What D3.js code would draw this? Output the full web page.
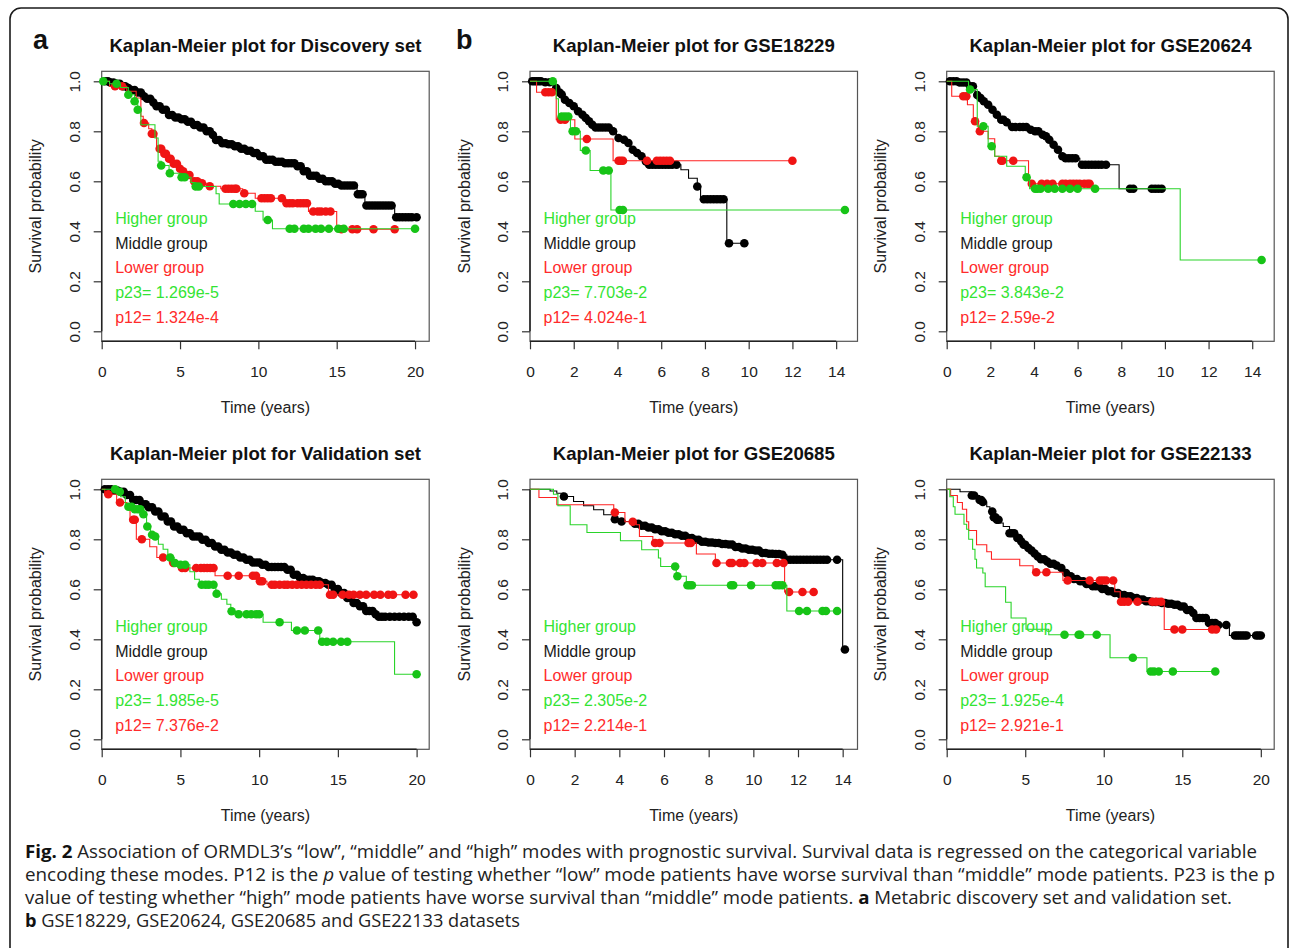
<!DOCTYPE html>
<html><head><meta charset="utf-8">
<script src="https://cdn.jsdelivr.net/npm/d3@7"></script>
<style>html,body{margin:0;padding:0;background:#fff;} svg{display:block;}</style>
</head><body><svg id="c" width="1290" height="948"></svg>
<script>
// ---------------- DATA ----------------
const panelTitles = ["Kaplan-Meier plot for Discovery set","Kaplan-Meier plot for GSE18229","Kaplan-Meier plot for GSE20624",
  "Kaplan-Meier plot for Validation set","Kaplan-Meier plot for GSE20685","Kaplan-Meier plot for GSE22133"];
const panelXTicks = [[0,5,10,15,20],[0,2,4,6,8,10,12,14],[0,2,4,6,8,10,12,14],
  [0,5,10,15,20],[0,2,4,6,8,10,12,14],[0,5,10,15,20]];
const panelTMax = [20.1, 14.4, 14.43, 20, 14.1, 20.05];
const yTicks = [0,0.2,0.4,0.6,0.8,1.0];
const groupNames = ["Higher group","Middle group","Lower group"];
const p23Labels = ["p23= 1.269e-5","p23= 7.703e-2","p23= 3.843e-2","p23= 1.985e-5","p23= 2.305e-2","p23= 1.925e-4"];
const p12Labels = ["p12= 1.324e-4","p12= 4.024e-1","p12= 2.59e-2","p12= 7.376e-2","p12= 2.214e-1","p12= 2.921e-1"];
const panelLetters = ["a","b"];
const xTitle = "Time (years)", yTitle = "Survival probability";

// Discovery set  (steps: [time, survival after drop]; cens: censor times)
const discMidSteps = [[0.5,0.995],[0.9,0.99],[1.3,0.98],[1.6,0.973],[1.9,0.965],[2.2,0.955],[2.6,0.94],[2.9,0.93],[3.2,0.915],[3.5,0.9],[3.9,0.886],[4.2,0.865],[4.6,0.855],[5.0,0.848],[5.4,0.838],[5.8,0.825],[6.2,0.815],[6.7,0.8],[7.0,0.785],[7.3,0.765],[7.6,0.752],[8.0,0.748],[8.4,0.74],[8.8,0.73],[9.2,0.722],[9.6,0.713],[10.0,0.7],[10.5,0.686],[11.0,0.678],[11.7,0.672],[12.4,0.66],[12.8,0.64],[13.2,0.622],[13.8,0.61],[14.3,0.6],[14.8,0.59],[15.2,0.583],[16.3,0.548],[16.8,0.503],[18.7,0.456]];
const discMidCens = [0.2,0.4,0.55,0.75,0.95,1.15,1.35,1.5,1.7,1.9,2.1,2.3,2.5,2.7,2.9,3.1,3.3,3.5,3.7,3.9,4.1,4.3,4.5,4.7,4.9,5.1,5.3,5.5,5.7,5.9,6.1,6.3,6.5,6.7,6.9,7.1,7.3,7.5,7.7,7.9,8.1,8.3,8.5,8.7,8.9,9.1,9.3,9.5,9.7,9.9,10.1,10.3,10.5,10.7,10.9,11.1,11.3,11.5,11.7,11.9,12.1,12.3,12.5,12.7,12.9,13.1,13.3,13.5,13.7,13.9,14.1,14.3,14.5,14.7,14.9,15.1,15.3,15.5,15.7,15.9,16.1,16.35,16.5,16.65,16.9,17.1,17.3,17.5,17.7,17.9,18.1,18.3,18.5,18.8,19.0,19.2,19.4,19.6,19.8,20.1];
const discLowSteps = [[0.5,0.98],[1.6,0.96],[2.2,0.933],[2.5,0.86],[2.65,0.833],[3.0,0.81],[3.2,0.79],[3.5,0.73],[3.9,0.71],[4.2,0.69],[4.5,0.67],[4.9,0.65],[5.1,0.64],[5.4,0.625],[5.7,0.6],[6.3,0.592],[6.8,0.58],[7.6,0.57],[9.0,0.552],[9.8,0.532],[11.6,0.512],[13.2,0.479],[15.0,0.408]];
const discLowCens = [0.85,1.3,2.7,3.2,3.3,3.7,3.8,4.0,4.1,4.3,4.4,4.6,4.8,5.0,5.2,5.4,5.6,5.9,6.1,6.4,6.9,7.9,8.1,8.3,8.5,8.6,9.1,10.2,10.4,10.6,10.8,11.5,11.8,12.0,12.2,12.5,12.7,12.9,13.1,13.5,13.8,14.0,14.3,14.6,15.3,16.0,16.3,17.35,18.7];
const discHighSteps = [[0.5,0.99],[1.2,0.975],[1.7,0.946],[2.1,0.92],[2.3,0.886],[2.5,0.826],[3.4,0.773],[3.6,0.68],[3.8,0.663],[4.3,0.632],[5.0,0.616],[5.7,0.595],[6.0,0.579],[7.3,0.55],[7.5,0.509],[9.8,0.48],[10.3,0.445],[10.9,0.41]];
const discHighCens = [0.1,0.95,1.7,2.1,2.3,3.8,4.35,5.1,5.3,6.0,6.2,8.4,8.8,9.2,9.6,10.6,12.0,12.3,12.9,13.2,13.65,14.0,14.5,15.1,15.45,20.0];

// GSE18229
const g18MidSteps = [[0.6,0.996],[1.0,0.985],[1.15,0.973],[1.3,0.955],[1.4,0.947],[1.5,0.926],[1.7,0.913],[1.9,0.9],[2.1,0.88],[2.3,0.866],[2.45,0.853],[2.6,0.84],[2.75,0.826],[2.95,0.815],[3.75,0.8],[3.95,0.773],[4.2,0.766],[4.45,0.753],[4.6,0.726],[4.85,0.713],[5.0,0.7],[5.2,0.679],[5.35,0.666],[6.9,0.646],[7.25,0.612],[7.65,0.579],[7.8,0.528],[9.0,0.352]];
const g18MidCens = [0.1,0.2,0.3,0.4,0.5,0.7,0.9,1.2,1.35,1.45,1.6,1.8,2.0,2.2,2.4,2.55,2.7,2.85,3.0,3.15,3.3,3.45,3.6,3.8,4.05,4.3,4.5,4.7,4.9,5.1,5.3,5.45,5.6,5.75,5.9,6.05,6.2,6.35,6.5,6.7,7.65,7.95,8.1,8.25,8.4,8.55,8.7,8.85,9.1,9.8];
const g18LowSteps = [[0.3,0.956],[1.2,0.846],[2.05,0.769],[3.8,0.682]];
const g18LowCens = [0.7,0.85,1.0,1.4,1.6,2.6,4.05,4.15,4.25,5.35,5.8,5.95,6.1,6.25,6.4,12.0];
const g18HighSteps = [[1.2,0.93],[1.3,0.859],[1.85,0.8],[2.3,0.723],[2.75,0.643],[3.7,0.485]];
const g18HighCens = [1.04,1.45,1.6,1.75,1.95,2.1,2.55,3.35,3.6,4.1,4.25,14.4];

// GSE20624
const g20MidSteps = [[0.5,0.995],[1.0,0.98],[1.3,0.945],[1.45,0.933],[1.6,0.92],[1.83,0.906],[2.05,0.886],[2.2,0.866],[2.45,0.846],[2.67,0.836],[2.82,0.817],[3.8,0.806],[4.0,0.8],[4.3,0.786],[4.5,0.78],[4.6,0.766],[4.8,0.746],[5.0,0.726],[5.2,0.7],[5.35,0.692],[6.1,0.666],[7.9,0.57]];
const g20MidCens = [0.15,0.3,0.45,0.6,0.75,0.9,1.07,1.2,1.4,1.55,1.7,1.9,2.1,2.3,2.5,2.6,2.75,3.0,3.15,3.35,3.5,3.65,3.85,4.05,4.2,4.4,4.55,4.7,4.9,5.1,5.3,5.45,5.6,5.75,5.9,6.2,6.35,6.5,6.65,6.8,6.95,7.1,7.3,8.4,8.55,9.4,9.55,9.7,9.85];
const g20LowSteps = [[0.23,0.94],[0.95,0.906],[1.22,0.84],[1.45,0.8],[1.9,0.77],[2.2,0.7],[2.4,0.682],[3.75,0.59]];
const g20LowCens = [0.76,0.9,1.3,1.52,2.5,2.55,3.05,3.9,4.35,4.6,4.85,5.3,5.45,5.65,5.8,5.95,6.1,6.3,6.45,6.55];
const g20HighSteps = [[1.0,0.967],[1.4,0.82],[1.9,0.74],[2.2,0.7],[2.75,0.66],[3.6,0.616],[3.8,0.57],[10.7,0.285]];
const g20HighCens = [1.07,1.68,2.06,3.66,4.05,4.15,4.3,4.65,4.95,5.3,5.65,6.0,6.8,14.43];

// Validation set
const valMidSteps = [[0.8,0.995],[1.15,0.99],[1.6,0.977],[2.0,0.957],[2.45,0.94],[2.85,0.928],[3.3,0.911],[3.7,0.891],[4.1,0.871],[4.55,0.851],[5.0,0.838],[5.4,0.824],[5.8,0.811],[6.25,0.798],[6.65,0.785],[7.1,0.771],[7.5,0.758],[7.95,0.747],[8.35,0.738],[8.8,0.727],[9.2,0.718],[9.6,0.707],[10.05,0.698],[10.5,0.689],[11.75,0.678],[12.15,0.658],[12.6,0.645],[13.0,0.638],[13.45,0.632],[13.85,0.625],[14.3,0.618],[14.7,0.601],[15.1,0.585],[15.55,0.565],[16.0,0.545],[16.4,0.532],[16.8,0.513],[17.25,0.5],[17.55,0.49],[19.95,0.468]];
const valMidCens = [0.2,0.4,0.6,0.8,1.0,1.2,1.4,1.6,1.8,2.0,2.2,2.4,2.6,2.8,3.0,3.2,3.4,3.6,3.8,4.0,4.2,4.4,4.6,4.8,5.0,5.2,5.4,5.6,5.8,6.0,6.2,6.4,6.6,6.8,7.0,7.2,7.4,7.6,7.8,8.0,8.2,8.4,8.6,8.8,9.0,9.2,9.4,9.6,9.8,10.0,10.2,10.4,10.6,10.8,11.0,11.2,11.4,11.6,11.8,12.0,12.2,12.4,12.6,12.8,13.0,13.2,13.4,13.6,13.8,14.0,14.2,14.4,14.6,14.8,15.0,15.2,15.4,15.6,15.8,16.0,16.2,16.4,16.6,16.8,17.0,17.2,17.4,17.6,17.8,18.0,18.3,18.6,18.9,19.2,19.5,19.75,20.0];
const valLowSteps = [[0.2,0.98],[0.95,0.947],[1.6,0.93],[1.8,0.878],[2.2,0.8],[3.05,0.77],[3.5,0.727],[4.3,0.705],[4.9,0.685],[7.2,0.654],[9.95,0.632],[10.5,0.618],[14.4,0.578]];
const valLowCens = [0.42,1.16,2.0,2.1,2.55,3.9,4.55,5.1,5.3,6.0,6.3,6.5,6.7,6.9,7.1,8.0,8.7,9.6,9.8,10.05,10.2,10.8,11.0,11.3,11.6,11.8,12.1,12.4,12.7,13.0,13.3,13.6,13.85,14.5,14.7,15.3,15.7,16.0,16.4,16.8,17.3,17.7,18.2,18.5,19.3,19.8];
const valHighSteps = [[1.0,0.99],[1.2,0.97],[1.5,0.93],[2.0,0.92],[2.6,0.9],[2.85,0.851],[3.1,0.818],[3.35,0.811],[3.6,0.78],[3.9,0.76],[4.2,0.727],[4.6,0.705],[4.95,0.698],[5.6,0.67],[5.9,0.64],[6.2,0.618],[7.25,0.582],[7.6,0.56],[7.95,0.54],[8.2,0.512],[8.6,0.5],[10.25,0.468],[12.05,0.435],[13.85,0.39],[18.6,0.26]];
const valHighCens = [0.85,1.15,1.7,1.9,2.1,2.3,2.45,2.65,2.9,3.2,3.4,4.35,4.65,5.0,5.3,6.35,6.6,6.8,7.1,7.3,8.25,8.7,9.2,9.5,9.8,10.0,11.3,12.4,12.9,13.75,14.0,14.3,14.7,15.2,15.6,20.0];

// GSE20685
const g685MidSteps = [[0.9,0.993],[1.2,0.984],[1.5,0.971],[1.95,0.951],[2.4,0.934],[2.85,0.918],[3.3,0.898],[3.75,0.88],[4.1,0.871],[4.6,0.862],[4.95,0.854],[5.2,0.847],[5.5,0.84],[5.85,0.832],[6.1,0.826],[6.4,0.82],[6.7,0.814],[7.0,0.805],[7.3,0.798],[7.6,0.79],[7.9,0.787],[8.2,0.785],[8.5,0.781],[8.8,0.779],[9.1,0.769],[9.4,0.763],[9.7,0.758],[10.0,0.755],[10.3,0.745],[10.6,0.742],[10.9,0.741],[11.2,0.738],[11.5,0.718],[14.0,0.359]];
const g685MidCens = [1.52,3.8,4.1,4.7,4.85,5.0,5.15,5.3,5.45,5.6,5.75,5.9,6.05,6.2,6.35,6.5,6.65,6.8,6.95,7.1,7.25,7.4,7.55,7.7,7.85,8.0,8.15,8.3,8.45,8.6,8.75,8.9,9.05,9.2,9.35,9.5,9.65,9.8,9.95,10.1,10.25,10.4,10.55,10.7,10.85,11.0,11.15,11.3,11.5,11.65,11.8,11.95,12.1,12.25,12.4,12.55,12.7,12.85,13.0,13.15,13.3,13.75,14.1];
const g685LowSteps = [[0.4,0.967],[1.2,0.938],[3.75,0.907],[4.25,0.87],[4.75,0.858],[4.9,0.811],[5.5,0.785],[7.45,0.741],[8.3,0.705],[11.4,0.589]];
const g685LowCens = [3.8,4.6,5.6,5.8,7.1,7.2,8.35,8.95,9.05,9.4,9.6,10.15,10.4,11.05,11.35,11.6,12.2,12.7];
const g685HighSteps = [[1.05,0.98],[1.25,0.934],[1.8,0.858],[2.55,0.827],[4.05,0.794],[5.0,0.758],[5.75,0.725],[5.85,0.691],[6.55,0.652],[7.0,0.616],[11.5,0.513]];
const g685HighCens = [6.5,6.6,7.05,7.15,7.25,9.0,9.1,9.9,11.0,11.15,11.3,12.05,12.4,13.1,13.25,13.75];

// GSE22133
const g22MidSteps = [[0.85,0.99],[1.6,0.975],[2.1,0.957],[2.3,0.949],[2.55,0.93],[2.75,0.911],[2.95,0.888],[3.2,0.878],[3.4,0.865],[3.6,0.851],[4.0,0.824],[4.45,0.805],[4.65,0.791],[4.85,0.778],[5.1,0.765],[5.3,0.755],[5.5,0.743],[5.7,0.731],[5.9,0.72],[6.25,0.711],[6.55,0.702],[6.9,0.695],[7.2,0.685],[7.5,0.665],[7.7,0.652],[8.05,0.641],[8.45,0.632],[8.9,0.621],[9.3,0.612],[9.75,0.601],[10.15,0.592],[10.6,0.585],[11.0,0.577],[11.4,0.572],[11.85,0.565],[12.3,0.559],[12.7,0.552],[13.1,0.549],[13.55,0.545],[14.0,0.542],[14.4,0.538],[14.8,0.531],[15.25,0.517],[15.65,0.505],[15.9,0.485],[16.7,0.465],[17.15,0.457],[18.0,0.415]];
const g22MidCens = [1.6,1.75,2.1,2.2,2.3,2.9,3.0,3.1,3.2,3.3,4.0,4.15,4.3,4.5,4.6,4.75,4.9,5.0,5.2,5.4,5.6,5.8,6.0,6.2,6.4,6.6,6.8,7.0,7.3,7.6,7.9,8.1,8.3,8.5,8.7,8.9,9.1,9.3,9.5,9.7,9.9,10.1,10.3,10.5,10.7,10.9,11.1,11.3,11.5,11.7,11.9,12.1,12.3,12.5,12.7,12.9,13.1,13.3,13.5,13.7,13.9,14.1,14.3,14.5,14.7,14.9,15.1,15.3,15.5,15.7,15.9,16.1,16.3,16.5,16.7,16.9,17.1,17.3,17.8,18.35,18.5,18.65,18.8,18.95,19.1,19.7,19.85,20.0];
const g22LowSteps = [[0.25,0.975],[0.68,0.947],[1.0,0.92],[1.27,0.87],[1.4,0.835],[1.9,0.778],[2.55,0.75],[2.85,0.72],[4.65,0.694],[5.5,0.668],[7.4,0.635],[10.7,0.59],[11.05,0.55],[13.85,0.439]];
const g22LowCens = [5.7,6.35,7.7,9.1,9.75,9.95,10.15,10.6,11.1,11.3,11.55,12.15,13.1,13.35,13.65,14.5,15.0,16.9,17.15];
const g22HighSteps = [[0.2,0.97],[0.42,0.93],[0.53,0.9],[1.1,0.86],[1.27,0.84],[1.4,0.8],[1.65,0.76],[1.8,0.72],[1.9,0.685],[2.3,0.665],[2.45,0.61],[3.75,0.548],[4.1,0.485],[5.05,0.44],[6.5,0.418],[10.4,0.326],[12.75,0.271]];
const g22HighCens = [7.5,8.4,8.5,9.55,11.85,13.0,13.2,13.5,14.4,17.1];

// caption
const captionLines = [
  [["Fig. 2","b"],[" Association of ORMDL3\u2019s \u201clow\u201d, \u201cmiddle\u201d and \u201chigh\u201d modes with prognostic survival. Survival data is regressed on the categorical variable",""]],
  [["encoding these modes. P12 is the ",""],["p","i"],[" value of testing whether \u201clow\u201d mode patients have worse survival than \u201cmiddle\u201d mode patients. P23 is the p",""]],
  [["value of testing whether \u201chigh\u201d mode patients have worse survival than \u201cmiddle\u201d mode patients. ",""],["a","b"],[" Metabric discovery set and validation set.",""]],
  [["b","b"],[" GSE18229, GSE20624, GSE20685 and GSE22133 datasets",""]]
];
const captionWidths = [1232, 1250, 1207, 495];

// ---------------- DRAW ----------------
const panelSeries = [
  [[discMidSteps,discMidCens,"mid"],[discLowSteps,discLowCens,"low"],[discHighSteps,discHighCens,"high"]],
  [[g18MidSteps,g18MidCens,"mid"],[g18LowSteps,g18LowCens,"low"],[g18HighSteps,g18HighCens,"high"]],
  [[g20MidSteps,g20MidCens,"mid"],[g20LowSteps,g20LowCens,"low"],[g20HighSteps,g20HighCens,"high"]],
  [[valMidSteps,valMidCens,"mid"],[valLowSteps,valLowCens,"low"],[valHighSteps,valHighCens,"high"]],
  [[g685MidSteps,g685MidCens,"mid"],[g685LowSteps,g685LowCens,"low"],[g685HighSteps,g685HighCens,"high"]],
  [[g22MidSteps,g22MidCens,"mid"],[g22LowSteps,g22LowCens,"low"],[g22HighSteps,g22HighCens,"high"]]
];

const svg = d3.select("#c");
const FONT = "'Liberation Sans', Arial, Helvetica, sans-serif";
const colLeft = [101.7, 530, 946.7], rowTop = [71.3, 479.3];
const boxW = 327.5, boxH = 270;
const COL = {
  high: {line:"#2ad42a", dot:"#17c417", text:"#33e433"},
  mid:  {line:"#000000", dot:"#000000", text:"#1a1a1a"},
  low:  {line:"#ff2222", dot:"#f01414", text:"#ff2b2b"}
};
const textCols = [COL.high.text, COL.mid.text, COL.low.text, COL.high.text, COL.low.text];

// outer frame
svg.append("path")
  .attr("d", "M10,960 L10,19 A11,11 0 0 1 21,8 L1277,8 A11,11 0 0 1 1288,19 L1288,960")
  .attr("fill","none").attr("stroke","#1a1a1a").attr("stroke-width",1.6);

function survAt(steps, t){ let s = 1; for (const [tt, ss] of steps){ if (tt <= t) s = ss; else break; } return s; }

panelTitles.forEach((title, i) => {
  const col = i % 3, row = Math.floor(i / 3);
  const L = colLeft[col], T = rowTop[row];
  const tmax = panelTMax[i];
  const x = d3.scaleLinear().domain([0, tmax * 1.04]).range([L, L + boxW]);
  const y = d3.scaleLinear().domain([-0.04, 1.04]).range([T + boxH, T]);
  const g = svg.append("g");

  // title
  g.append("text").attr("x", L + boxW/2).attr("y", T - 19.5)
    .attr("text-anchor","middle").attr("font-family",FONT).attr("font-weight","bold")
    .attr("font-size",18.6).attr("fill","#111").text(title);

  // box
  g.append("rect").attr("x",L).attr("y",T).attr("width",boxW).attr("height",boxH)
    .attr("fill","none").attr("stroke","#555").attr("stroke-width",1.2);

  // x axis
  const xt = panelXTicks[i];
  const xa = g.append("g").attr("transform",`translate(0,${T+boxH})`)
    .call(d3.axisBottom(x).tickValues(xt).tickSize(8).tickSizeOuter(0).tickFormat(d3.format("d")));
  xa.select(".domain").remove();
  xa.append("line").attr("x1",x(xt[0])).attr("x2",x(xt[xt.length-1])).attr("y1",0).attr("y2",0)
    .attr("stroke","#222").attr("stroke-width",1.5);
  xa.selectAll(".tick line").attr("stroke","#333").attr("stroke-width",1.2);
  xa.selectAll(".tick text").attr("y",30).attr("dy","0.35em").attr("font-family",FONT)
    .attr("font-size",15.5).attr("fill","#222");

  // y axis
  const ya = g.append("g").attr("transform",`translate(${L},0)`)
    .call(d3.axisLeft(y).tickValues(yTicks).tickSize(8).tickSizeOuter(0).tickFormat(d3.format(".1f")));
  ya.select(".domain").remove();
  ya.append("line").attr("x1",0).attr("x2",0).attr("y1",y(0)).attr("y2",y(1))
    .attr("stroke","#222").attr("stroke-width",1.5);
  ya.selectAll(".tick line").attr("stroke","#333").attr("stroke-width",1.2);
  ya.selectAll(".tick text").attr("transform","rotate(-90)").attr("x",0).attr("y",-27.5)
    .attr("dy","0.35em").attr("text-anchor","middle").attr("font-family",FONT)
    .attr("font-size",15.5).attr("fill","#222");

  // axis titles
  g.append("text").attr("x", L + boxW/2).attr("y", T + boxH + 66).attr("dy","0.35em")
    .attr("text-anchor","middle").attr("font-family",FONT).attr("font-size",16).attr("fill","#222").text(xTitle);
  g.append("text").attr("transform",`translate(${L-66},${T+boxH/2}) rotate(-90)`).attr("dy","0.35em")
    .attr("text-anchor","middle").attr("font-family",FONT).attr("font-size",16).attr("fill","#222").text(yTitle);

  // curves
  panelSeries[i].forEach(([steps, cens, key]) => {
    const tEnd = Math.max(steps.length ? steps[steps.length-1][0] : 0, cens.length ? cens[cens.length-1] : 0);
    const pts = [[0,1]];
    let prev = 1;
    steps.forEach(([t, s]) => { pts.push([t, prev]); pts.push([t, s]); prev = s; });
    pts.push([tEnd, prev]);
    g.append("path").attr("d", d3.line().x(d => x(d[0])).y(d => y(d[1]))(pts))
      .attr("fill","none").attr("stroke",COL[key].line).attr("stroke-width",1.1);
    g.selectAll(null).data(cens).enter().append("circle")
      .attr("cx", d => x(d)).attr("cy", d => y(survAt(steps, d))).attr("r", 4.3)
      .attr("fill", COL[key].dot);
  });

  // legend text
  const legend = [groupNames[0], groupNames[1], groupNames[2], p23Labels[i], p12Labels[i]];
  legend.forEach((txt, k) => {
    g.append("text").attr("x", L + 13.5).attr("y", T + 147 + k*24.7).attr("dy","0.35em")
      .attr("font-family",FONT).attr("font-size",16).attr("fill",textCols[k]).text(txt);
  });
});

// panel letters
[[33, "a"], [456, "b"]].forEach(([px, _], k) => {
  svg.append("text").attr("x",px).attr("y",48.5).attr("font-family",FONT).attr("font-weight","bold")
    .attr("font-size",27).attr("fill","#111").text(panelLetters[k]);
});

// caption
const capFont = "'Open Sans', Lato, 'Noto Sans', sans-serif";
captionLines.forEach((parts, k) => {
  const t = svg.append("text").attr("x",25).attr("y",857.5 + k*23)
    .attr("font-family",capFont).attr("font-size",17.5).attr("fill","#222")
    .attr("textLength",captionWidths[k]).attr("lengthAdjust","spacingAndGlyphs");
  parts.forEach(([s, st]) => {
    const ts = t.append("tspan").text(s);
    if (st === "b") ts.attr("font-weight","bold").attr("fill","#111");
    if (st === "i") ts.attr("font-style","italic");
  });
});
</script></body></html>
